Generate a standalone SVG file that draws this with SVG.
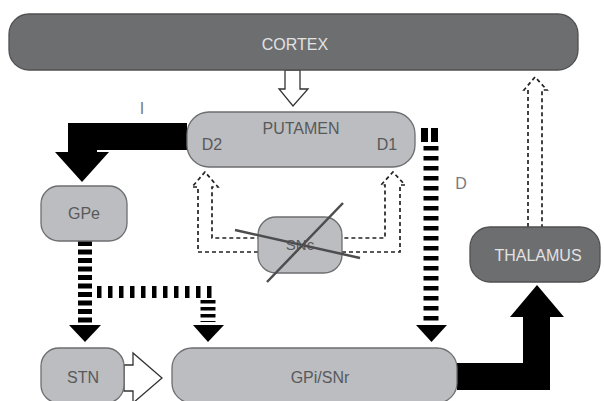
<svg xmlns="http://www.w3.org/2000/svg" width="604" height="401" viewBox="0 0 604 401">
<style>
.lt{fill:#bcbdc0;stroke:#6d6e70;stroke-width:1.3}
.dk{fill:#6d6e70;stroke:#505052;stroke-width:1.3}
.tl{font-family:"Liberation Sans",Arial,sans-serif;font-size:16px;fill:#58595b;text-anchor:middle}
.td{font-family:"Liberation Sans",Arial,sans-serif;font-size:16px;fill:#e2e2e2;text-anchor:middle}
.lab{font-family:"Liberation Sans",Arial,sans-serif;font-size:16px;fill:#7a7a7c;text-anchor:middle}
.hol{fill:#fff;stroke:#333;stroke-width:1.3}
.blk{fill:#000}
.thin{fill:none;stroke:#222;stroke-width:1.7;stroke-dasharray:4 3}
.thick{fill:none;stroke:#000}
.x{stroke:#4d4d4f;stroke-width:2.5}
</style>
<rect width="604" height="401" fill="#fff"/>
<g id="connectors">
  <polygon class="hol" points="285,70 300,70 300,89 308,89 293,106 279,89 285,89"/>
  <polygon class="blk" points="187,123 68,123 68,152 55,152 82,182 109,152 97,152 97,150 187,150"/>
  <polygon class="hol" points="124,365 133,365 133,353 162,378 133,403 133,391 124,391"/>
  <polygon class="blk" points="457,363 523,363 523,317 510,317 537,285 564,317 550,317 550,390 457,390"/>
  <path class="thick" d="M85 241V323" stroke-width="14" stroke-dasharray="5 3.5"/>
  <polygon class="blk" points="69,325 101,325 85,342"/>
  <path class="thick" d="M97 292H216" stroke-width="12" stroke-dasharray="4.5 6.5"/>
  <path class="thick" d="M208 300V322" stroke-width="15" stroke-dasharray="3.5 3.5"/>
  <polygon class="blk" points="193,325 224,325 208,342"/>
  <path class="thick" d="M421 135H439" stroke-width="14" stroke-dasharray="7 3"/>
  <path class="thick" d="M431 146V322" stroke-width="15" stroke-dasharray="4.5 5.5"/>
  <polygon class="blk" points="416,325 447,325 431.5,342"/>
  <path class="thin" d="M258 252H198V187H192L205 172L218 187H212V238H258"/>
  <path class="thin" d="M342 252H400V185H405L393 172L381 185H385V238H342"/>
  <path class="thin" d="M528 227V90H524L535 77L547 90H542V227" stroke-dasharray="3 4"/>
  <text class="lab" x="142" y="114">I</text>
  <text class="lab" x="461" y="189">D</text>
</g>
<g id="cortex">
  <rect class="dk" x="9" y="14" width="569" height="56" rx="20"/>
  <text class="td" x="295" y="50">CORTEX</text>
</g>
<g id="putamen">
  <rect class="lt" x="187" y="112" width="228" height="55" rx="22"/>
  <text class="tl" x="301" y="134">PUTAMEN</text>
  <text class="tl" x="212" y="150">D2</text>
  <text class="tl" x="387" y="150">D1</text>
</g>
<g id="gpe">
  <rect class="lt" x="41" y="186" width="86" height="55" rx="18"/>
  <text class="tl" x="84" y="219">GPe</text>
</g>
<g id="snc">
  <rect class="lt" x="258" y="217" width="84" height="56" rx="18"/>
  <text class="tl" x="300" y="250" style="font-size:15px">SNc</text>
  <line class="x" x1="235" y1="230" x2="360" y2="258"/>
  <line class="x" x1="267" y1="282" x2="343" y2="203"/>
</g>
<g id="thalamus">
  <rect class="dk" x="470" y="227" width="130" height="55" rx="20"/>
  <text class="td" x="538" y="261">THALAMUS</text>
</g>
<g id="stn">
  <rect class="lt" x="41" y="348" width="83" height="55" rx="18"/>
  <text class="tl" x="83" y="383">STN</text>
</g>
<g id="gpi">
  <rect class="lt" x="172" y="348" width="285" height="55" rx="20"/>
  <text class="tl" x="320" y="383">GPi/SNr</text>
</g>
</svg>
